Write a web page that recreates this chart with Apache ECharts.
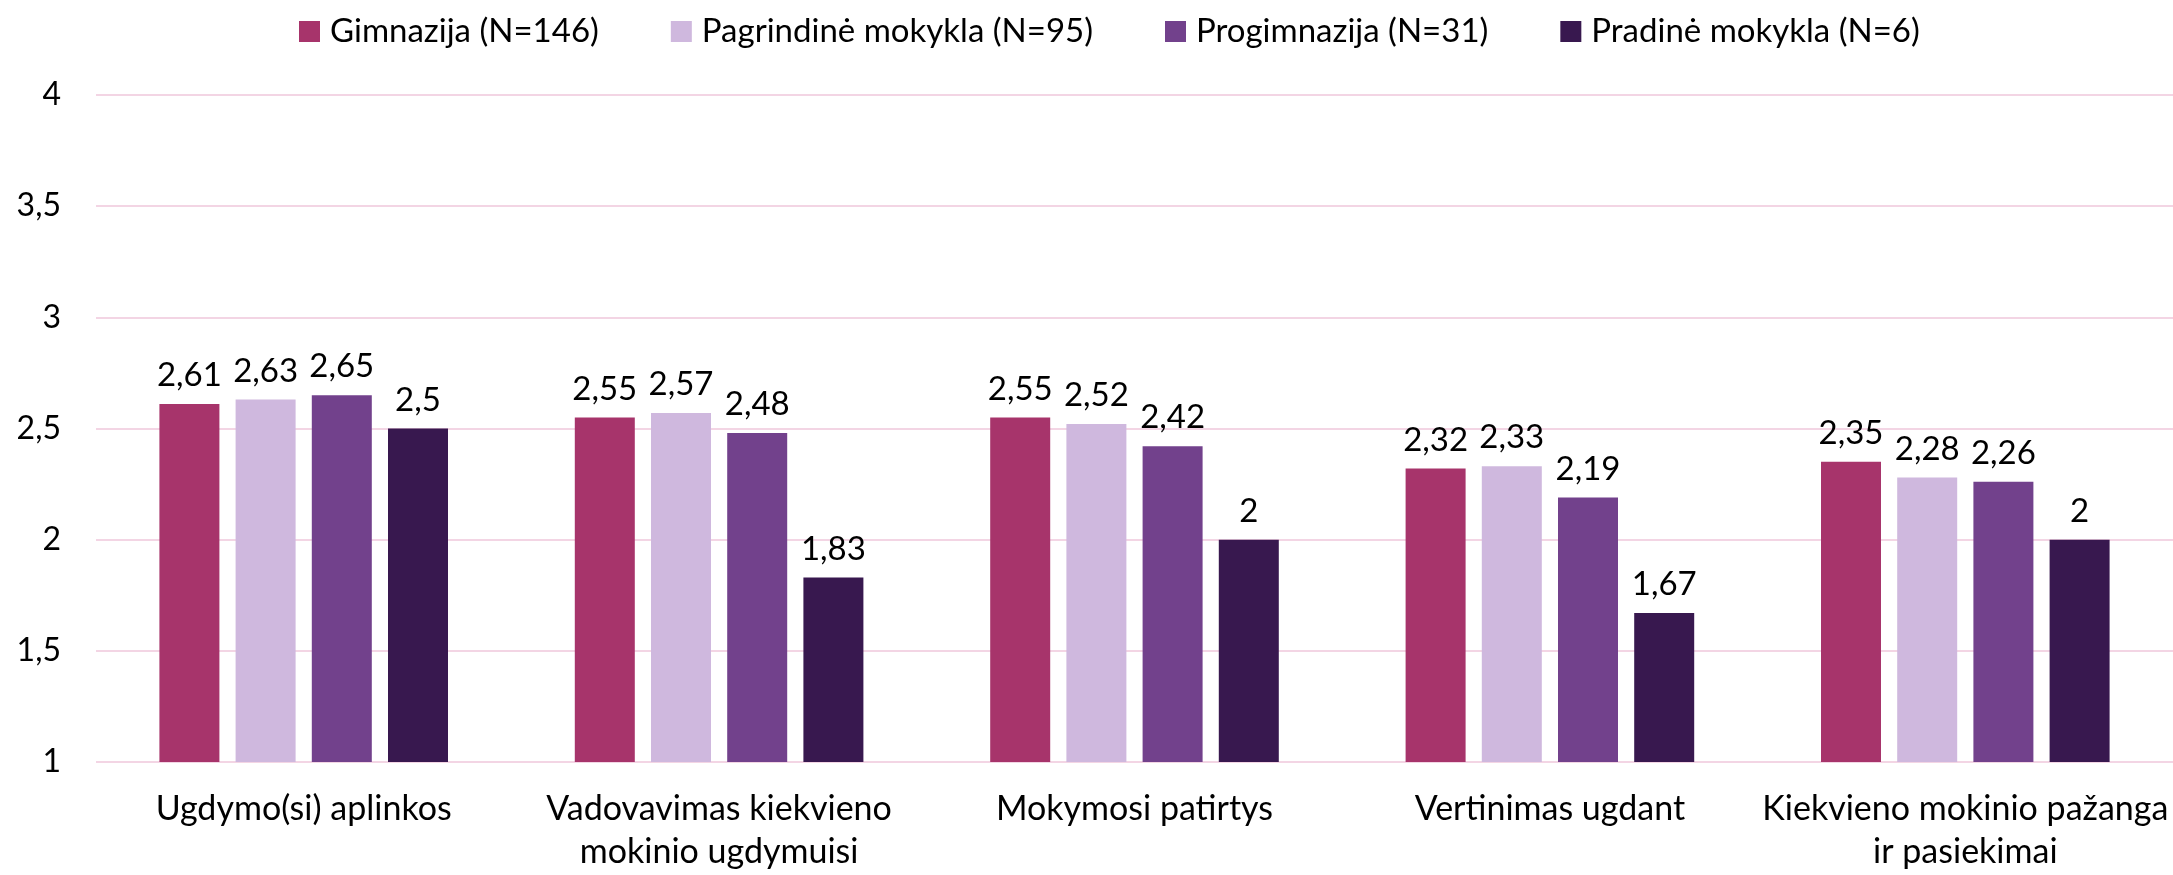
<!DOCTYPE html>
<html>
<head>
<meta charset="utf-8">
<script src="https://cdn.jsdelivr.net/npm/echarts@6/dist/echarts.min.js"></script>
<style>
  html, body { margin: 0; padding: 0; background: #fff; }
  #chart { width: 2173px; height: 875px; }
</style>
</head>
<body>
<div id="chart"></div>
<script>
const categories = [
  'Ugdymo(si) aplinkos',
  'Vadovavimas kiekvieno\nmokinio ugdymuisi',
  'Mokymosi patirtys',
  'Vertinimas ugdant',
  'Kiekvieno mokinio pažanga\nir pasiekimai'
];
const seriesNames = ['Gimnazija (N=146)', 'Pagrindinė mokykla (N=95)', 'Progimnazija (N=31)', 'Pradinė mokykla (N=6)'];
const gimnazija = [2.61, 2.55, 2.55, 2.32, 2.35];
const pagrindine = [2.63, 2.57, 2.52, 2.33, 2.28];
const progimnazija = [2.65, 2.48, 2.42, 2.19, 2.26];
const pradine = [2.5, 1.83, 2, 1.67, 2];
const colors = ['#a7346b', '#cfb8de', '#72418c', '#38184f'];

const fontFamily = 'Lato, "Open Sans", sans-serif';
const comma = (v) => String(v).replace('.', ',');

const chart = echarts.init(document.getElementById('chart'));
const values = [gimnazija, pagrindine, progimnazija, pradine];

chart.setOption({
  animation: false,
  color: colors,
  textStyle: { fontFamily },
  legend: {
    top: 10,
    left: 294,
    itemWidth: 21,
    itemHeight: 21,
    itemGap: 72,
    icon: 'rect',
    textStyle: { fontSize: 33, color: '#000', fontFamily, padding: [0, 0, 0, 5] },
    data: seriesNames
  },
  grid: { left: 96, right: 0, top: 95, bottom: 113 },
  xAxis: {
    type: 'category',
    data: categories,
    axisLine: { show: false },
    axisTick: { show: false },
    axisLabel: { color: '#000', fontSize: 34, lineHeight: 43, margin: 26, interval: 0, fontFamily }
  },
  yAxis: {
    type: 'value',
    min: 1,
    max: 4,
    interval: 0.5,
    axisLine: { show: false },
    axisTick: { show: false },
    axisLabel: { color: '#000', fontSize: 32, margin: 35, fontFamily, formatter: comma },
    splitLine: { lineStyle: { color: '#f3d5e4', width: 2 } }
  },
  series: seriesNames.map((name, i) => ({
    name,
    type: 'bar',
    data: values[i],
    barWidth: 60,
    barGap: '27%',
    barCategoryGap: '30%',
    label: {
      show: true,
      position: 'top',
      distance: 12,
      color: '#000',
      fontSize: 33,
      fontFamily,
      formatter: (p) => comma(p.value)
    }
  }))
});
</script>
</body>
</html>
